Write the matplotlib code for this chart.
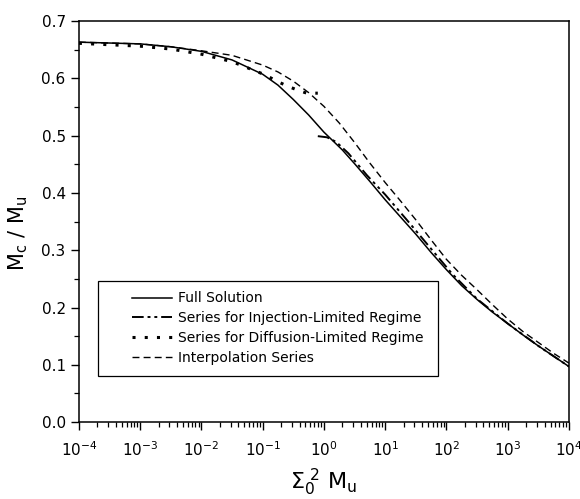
import matplotlib.pyplot as plt
import numpy as np
from matplotlib.patches import Rectangle
from matplotlib.ticker import LogLocator, MultipleLocator, NullFormatter

plt.rcParams['font.family'] = ['DejaVu Sans']
plt.rcParams['mathtext.default'] = 'regular'

# log10 of x
full_logx = [-4, -3, -2.5, -2, -1.5, -1, -0.75, -0.5, -0.25, 0, 0.3, 0.5, 0.75, 1.0, 1.25, 1.5,
             1.75, 2.0, 2.25, 2.5, 2.75, 3.0, 3.25, 3.5, 3.75, 4.0]
full_y = [0.663, 0.660, 0.655, 0.647, 0.632, 0.607, 0.588, 0.563, 0.536, 0.506, 0.475, 0.451,
          0.420, 0.388, 0.358, 0.328, 0.296, 0.266, 0.238, 0.214, 0.192, 0.172, 0.152, 0.133,
          0.115, 0.097]

inj_logx = [-0.1, 0.05, 0.2, 0.4, 0.7, 1.0, 1.4, 1.8, 2.1, 2.5, 3.0, 3.5, 4.0]
inj_y = [0.499, 0.497, 0.489, 0.469, 0.431, 0.397, 0.347, 0.296, 0.258, 0.215, 0.172, 0.133, 0.097]

dif_logx = [-4, -3, -2.5, -2, -1.5, -0.96, -0.77, -0.59, -0.42, -0.28, -0.1]
dif_y = [0.661, 0.656, 0.651, 0.642, 0.629, 0.606, 0.595, 0.586, 0.579, 0.574, 0.574]

itp_logx = [-4, -3, -2.5, -2, -1.5, -1, -0.75, -0.5, -0.25, 0, 0.25, 0.5, 0.75, 1.0, 1.25, 1.5,
            1.75, 2.0, 2.25, 2.5, 2.75, 3.0, 3.25, 3.5, 3.75, 4.0]
itp_y = [0.663, 0.660, 0.655, 0.648, 0.640, 0.623, 0.611, 0.595, 0.575, 0.551, 0.522, 0.488,
         0.452, 0.418, 0.386, 0.353, 0.318, 0.284, 0.256, 0.231, 0.205, 0.180, 0.158, 0.139,
         0.120, 0.103]

fig = plt.figure(figsize=(5.8, 4.99), dpi=100)
ax = fig.add_axes([0.136, 0.154, 0.845, 0.804])

ax.plot(10**np.array(full_logx), full_y, '-', c='k', lw=1.1, label='Full Solution')
ax.plot(10**np.array(inj_logx), inj_y, c='k', lw=1.4, ls=(0, (6, 2, 1.5, 2, 1.5, 2)),
        label='Series for Injection-Limited Regime')
ax.plot(10**np.array(dif_logx), dif_y, c='k', lw=2.2, ls=(0, (1, 3)),
        label='Series for Diffusion-Limited Regime')
ax.plot(10**np.array(itp_logx), itp_y, c='k', lw=1.0, ls=(0, (5, 3)), label='Interpolation Series')

ax.set_xscale('log')
ax.set_xlim(1e-4, 1e4)
ax.set_ylim(0.0, 0.7)
ax.xaxis.set_major_locator(LogLocator(base=10, numticks=20))
ax.xaxis.set_minor_locator(LogLocator(base=10, subs=np.arange(2, 10), numticks=20))
ax.xaxis.set_minor_formatter(NullFormatter())
ax.yaxis.set_major_locator(MultipleLocator(0.1))
ax.yaxis.set_minor_locator(MultipleLocator(0.05))
ax.yaxis.set_major_formatter(lambda v, p: '%.1f' % v)

ax.tick_params(which='major', direction='out', length=6, width=1.0, labelsize=11, color='k')
ax.tick_params(which='minor', direction='out', length=3.5, width=0.9)
ax.tick_params(axis='x', pad=7)
for s in ax.spines.values():
    s.set_linewidth(1.1)

ax.set_xlabel(r'$\Sigma_0^{\ 2}\ M_u$', fontsize=16, labelpad=6)
ax.set_ylabel(r'$M_c\ /\ M_u$', fontsize=15)
ax.yaxis.set_label_coords(-0.1, 0.47)

# legend entries without frame, box drawn separately
leg = ax.legend(loc='upper left', bbox_to_anchor=(0.108, 0.326), fontsize=10,
                handlelength=2.9, handletextpad=0.45, labelspacing=0.42,
                frameon=False, borderpad=0, borderaxespad=0)
box = Rectangle((0.0388, 0.1147), 0.694, 0.2373, transform=ax.transAxes,
                fill=False, ec='k', lw=0.9, zorder=5)
ax.add_patch(box)

fig.savefig('out.png', dpi=100)
